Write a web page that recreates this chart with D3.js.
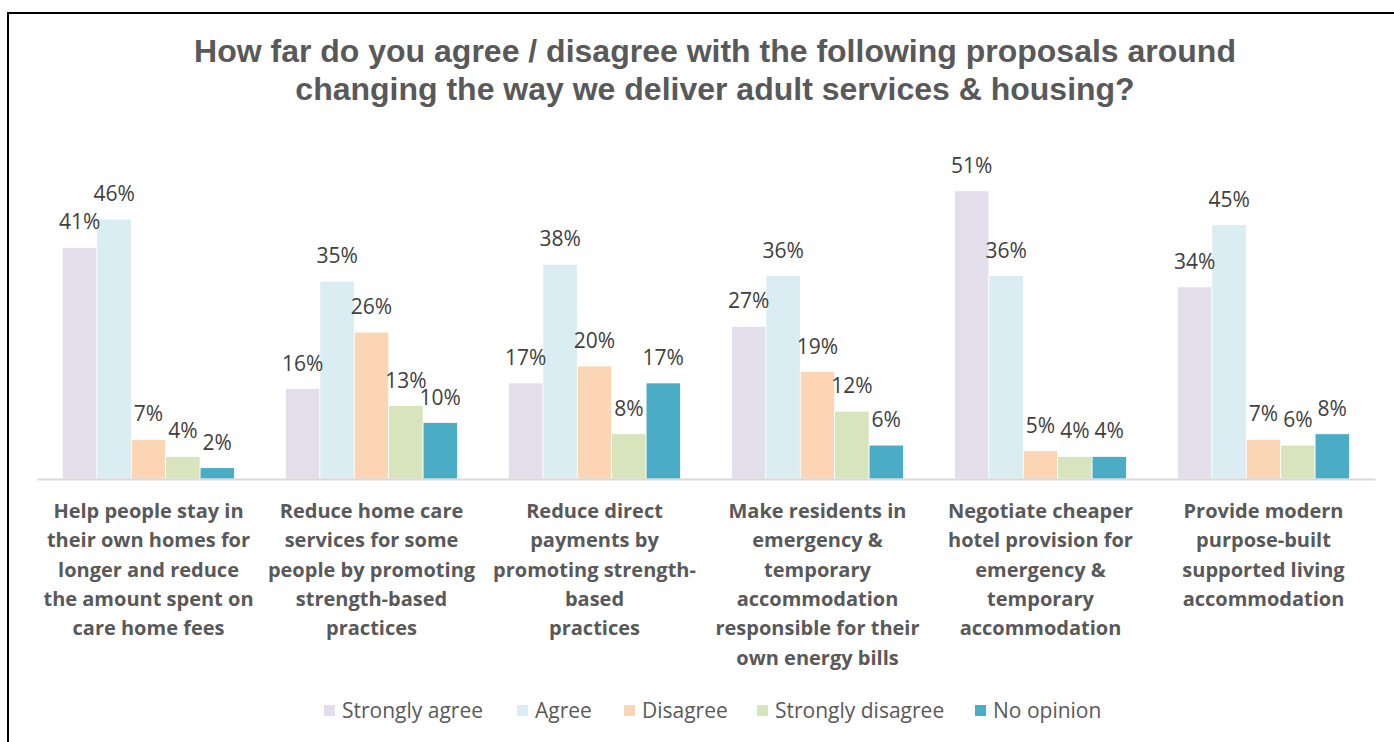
<!DOCTYPE html>
<html>
<head>
<meta charset="utf-8">
<script src="https://cdn.jsdelivr.net/npm/d3@7"></script>
<style>
  html, body { margin: 0; padding: 0; background: #fff; }
  svg { display: block; }
</style>
</head>
<body>
<svg id="chart" width="1394" height="742"></svg>
<script>
// Survey proposals (x-axis categories), wrapped as they are displayed
const categories = [
  "Help people stay in their own homes",
  "Reduce home care services",
  "Reduce direct payments",
  "Make residents pay own energy bills",
  "Negotiate cheaper hotel provision",
  "Provide supported living accommodation"
];
const categoryLines = [
  ["Help people stay in", "their own homes for", "longer and reduce", "the amount spent on", "care home fees"],
  ["Reduce home care", "services for some", "people by promoting", "strength-based", "practices"],
  ["Reduce direct", "payments by", "promoting strength-", "based", "practices"],
  ["Make residents in", "emergency &", "temporary", "accommodation", "responsible for their", "own energy bills"],
  ["Negotiate cheaper", "hotel provision for", "emergency &", "temporary", "accommodation"],
  ["Provide modern", "purpose-built", "supported living", "accommodation"]
];

// Response options (series)
const seriesNames = ["Strongly agree", "Agree", "Disagree", "Strongly disagree", "No opinion"];
const seriesColors = ["#E3DEEC", "#DAEDF3", "#FCD5B4", "#D8E4BC", "#4BACC6"];

// Percentages per response option, in category order
const stronglyAgree    = [41, 16, 17, 27, 51, 34];
const agree            = [46, 35, 38, 36, 36, 45];
const disagree         = [7, 26, 20, 19, 5, 7];
const stronglyDisagree = [4, 13, 8, 12, 4, 6];
const noOpinion        = [2, 10, 17, 6, 4, 8];
const seriesValues = [stronglyAgree, agree, disagree, stronglyDisagree, noOpinion];

const titleLines = [
  "How far do you agree / disagree with the following proposals around",
  "changing the way we deliver adult services & housing?"
];

const svg = d3.select("#chart");
const bodyFont = "'Open Sans', 'Noto Sans', sans-serif";

// Outer frame
svg.append("path")
  .attr("d", "M8,760 L8,13 L1400,13")
  .attr("fill", "none")
  .attr("stroke", "#000")
  .attr("stroke-width", 2);

// Title
svg.append("g").selectAll("text")
  .data(titleLines)
  .join("text")
  .attr("x", 715)
  .attr("y", (d, i) => 62 + i * 38)
  .attr("text-anchor", "middle")
  .attr("font-family", "'Liberation Sans', Arial, sans-serif")
  .attr("font-weight", "bold")
  .attr("font-size", 32)
  .attr("fill", "#595959")
  .text(d => d);

// Scales
const x0 = d3.scaleBand().domain(categories).range([37, 1375]).paddingInner(0).paddingOuter(0);
const groupWidth = 172;
const x1 = d3.scaleBand().domain(seriesNames).range([0, groupWidth]).padding(0);
const y = d3.scaleLinear().domain([0, 60]).range([479, 140]);
const color = d3.scaleOrdinal().domain(seriesNames).range(seriesColors);

const groupOffset = (x0.bandwidth() - groupWidth) / 2;

// Flattened records for bars and labels
const records = [];
categories.forEach((c, ci) => {
  seriesNames.forEach((s, si) => {
    records.push({ category: c, series: s, value: seriesValues[si][ci] });
  });
});

const plot = svg.append("g");

plot.selectAll("rect.bar")
  .data(records)
  .join("rect")
  .attr("class", "bar")
  .attr("x", d => x0(d.category) + groupOffset + x1(d.series))
  .attr("y", d => y(d.value))
  .attr("width", x1.bandwidth())
  .attr("height", d => y(0) - y(d.value))
  .attr("fill", d => color(d.series))
  .attr("stroke", "#fff")
  .attr("stroke-width", 0.75);

// Value labels above bars
plot.selectAll("text.val")
  .data(records)
  .join("text")
  .attr("class", "val")
  .attr("x", d => x0(d.category) + groupOffset + x1(d.series) + x1.bandwidth() / 2)
  .attr("y", d => y(d.value) - 18)
  .attr("text-anchor", "middle")
  .attr("font-family", bodyFont)
  .attr("font-size", 21)
  .attr("fill", "#404040")
  .text(d => d.value + "%");

// Category axis line
const xAxis = d3.axisBottom(x0).tickSize(0).tickFormat("");
const axisG = svg.append("g")
  .attr("transform", `translate(0,${y(0)})`)
  .call(xAxis);
axisG.select(".domain").attr("stroke", "#D9D9D9").attr("stroke-width", 2);

// Wrapped category labels
const catG = svg.append("g");
categories.forEach((c, ci) => {
  const t = catG.append("text")
    .attr("x", x0(c) + x0.bandwidth() / 2)
    .attr("y", 518)
    .attr("text-anchor", "middle")
    .attr("font-family", bodyFont)
    .attr("font-weight", "bold")
    .attr("font-size", 20)
    .attr("fill", "#595959");
  categoryLines[ci].forEach((line, li) => {
    t.append("tspan")
      .attr("x", x0(c) + x0.bandwidth() / 2)
      .attr("y", 518 + li * 29.3)
      .text(line);
  });
});

// Legend
const legendX = [324, 517, 624, 757, 975];
const legend = svg.append("g").selectAll("g")
  .data(seriesNames)
  .join("g")
  .attr("transform", (d, i) => `translate(${legendX[i]},705)`);
legend.append("rect")
  .attr("width", 11)
  .attr("height", 11)
  .attr("fill", d => color(d));
legend.append("text")
  .attr("x", 18)
  .attr("y", 13)
  .attr("font-family", bodyFont)
  .attr("font-size", 21)
  .attr("fill", "#595959")
  .text(d => d);
</script>
</body>
</html>
